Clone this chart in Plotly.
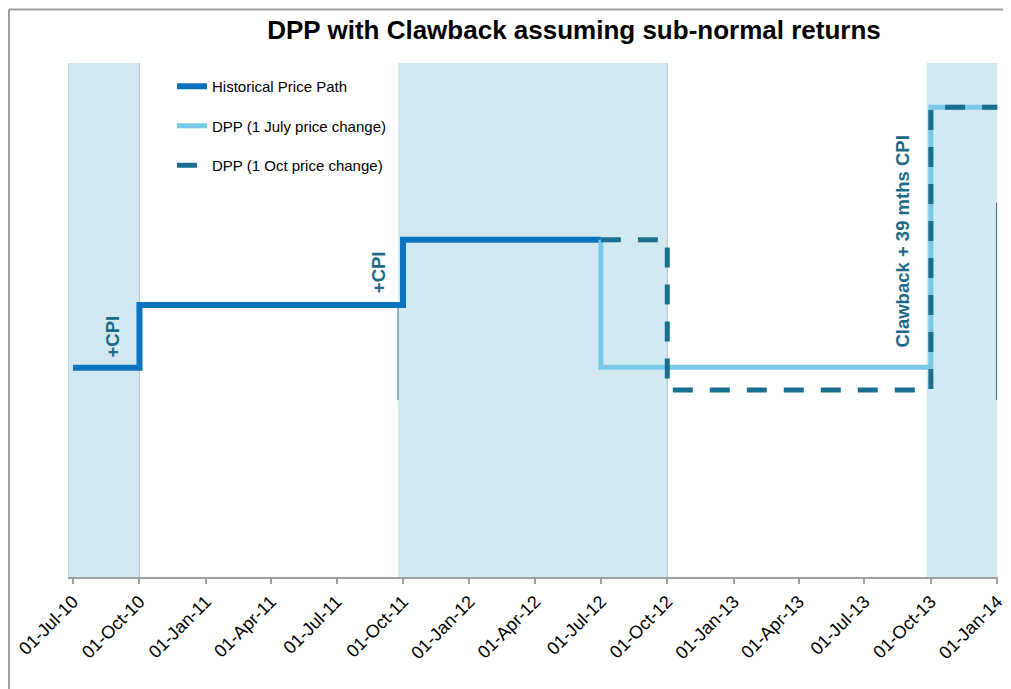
import plotly.graph_objects as go

# ---- data ----
tick_dates = ["2010-07-01", "2010-10-01", "2011-01-01", "2011-04-01", "2011-07-01",
              "2011-10-01", "2012-01-01", "2012-04-01", "2012-07-01", "2012-10-01",
              "2013-01-01", "2013-04-01", "2013-07-01", "2013-10-01", "2014-01-01"]
tick_labels = ["01-Jul-10", "01-Oct-10", "01-Jan-11", "01-Apr-11", "01-Jul-11",
               "01-Oct-11", "01-Jan-12", "01-Apr-12", "01-Jul-12", "01-Oct-12",
               "01-Jan-13", "01-Apr-13", "01-Jul-13", "01-Oct-13", "01-Jan-14"]

hist_x = ["2010-07-01", "2010-10-01", "2011-10-01", "2012-07-01"]
hist_y = [40.7, 52.9, 65.6, 65.6]

july_x = ["2012-07-01", "2013-10-01", "2014-01-01"]
july_y = [65.6, 40.8, 91.4]

oct_x = ["2012-07-01", "2012-10-01", "2013-10-01", "2014-01-01"]
oct_y = [65.6, 36.4, 91.4, 91.4]

band_start = ["2010-06-24", "2011-09-24", "2013-09-25"]
band_end = ["2010-10-01", "2012-10-01", "2014-01-01"]

FONT = "Liberation Sans, Arial, sans-serif"
TEAL = "#1d6a87"

W, H = 1003, 681          # page has an 8px body margin
L, T, B, R = 60, 55, 112, 13
PW, PH = W - L - R, H - T - B

fig = go.Figure()

fig.add_trace(go.Scatter(x=hist_x, y=hist_y, mode="lines", line_shape="hv",
                         name="Historical Price Path", legendgroup="a",
                         line=dict(color="#0a73bf", width=6)))
fig.add_trace(go.Scatter(x=july_x, y=july_y, mode="lines", line_shape="vh",
                         name="DPP (1 July price change)", legendgroup="b",
                         line=dict(color="#78c9e7", width=5)))
fig.add_trace(go.Scatter(x=oct_x, y=oct_y, mode="lines", line_shape="hv",
                         name="DPP (1 Oct price change)", legendgroup="c",
                         line=dict(color="#1a6f8e", width=5, dash="20px,17px")))

shapes = []
for s, e in zip(band_start, band_end):
    shapes.append(dict(type="rect", xref="x", yref="y", x0=s, x1=e, y0=0, y1=100,
                       fillcolor="#d2e9f1", line=dict(width=0), layer="below"))
# thin gray band edges
for xv in ["2010-06-24", "2010-10-01", "2012-10-01"]:
    shapes.append(dict(type="line", xref="x", yref="y", x0=xv, x1=xv, y0=0, y1=100,
                       line=dict(color="#b8c4c8", width=1), layer="below"))
# thin dark residual lines
shapes.append(dict(type="line", xref="x", yref="y", x0="2011-09-24", x1="2011-09-24",
                   y0=34.4, y1=52.9, line=dict(color="#3d6e8c", width=1)))
shapes.append(dict(type="line", xref="x", yref="y", x0="2013-12-31", x1="2013-12-31",
                   y0=34.4, y1=72.8, line=dict(color="#3d6e8c", width=1)))
# outer frame (top and left)
fx = -(L - 1) / PW
fy = 1 + (T - 1.5) / PH
shapes.append(dict(type="line", xref="paper", yref="paper", x0=fx, x1=1.1,
                   y0=fy, y1=fy, line=dict(color="#a0a0a0", width=2)))
shapes.append(dict(type="line", xref="paper", yref="paper", x0=fx, x1=fx,
                   y0=-0.3, y1=fy, line=dict(color="#a0a0a0", width=2)))

annotations = [
    dict(text="<b>+CPI</b>", x="2010-08-24", y=46.8, xref="x", yref="y", textangle=-90,
         showarrow=False, font=dict(family=FONT, size=18.5, color=TEAL)),
    dict(text="<b>+CPI</b>", x="2011-08-28", y=59.4, xref="x", yref="y", textangle=-90,
         showarrow=False, font=dict(family=FONT, size=18.5, color=TEAL)),
    dict(text="<b>Clawback + 39 mths CPI</b>", x="2013-08-23", y=65.2, xref="x", yref="y",
         textangle=-90, showarrow=False, font=dict(family=FONT, size=18.5, color=TEAL)),
]

fig.update_layout(
    width=W, height=H,
    margin=dict(l=L, r=R, t=T, b=B, autoexpand=False),
    paper_bgcolor="white", plot_bgcolor="white",
    title=dict(text="<b>DPP with Clawback assuming sub-normal returns</b>",
               x=566 / W, xanchor="center", y=1 - 22 / H, yanchor="middle",
               font=dict(family=FONT, size=26, color="black")),
    xaxis=dict(type="date", range=["2010-06-24", "2014-01-02"], automargin=False,
               tickvals=tick_dates, ticktext=tick_labels, tickangle=-45,
               ticks="outside", ticklen=5, tickcolor="#a0a0a0", tickwidth=1.5,
               showline=True, linecolor="#a0a0a0", linewidth=2,
               showgrid=False, zeroline=False,
               tickfont=dict(family=FONT, size=18, color="black")),
    yaxis=dict(range=[0, 100], visible=False, showgrid=False, zeroline=False,
               automargin=False),
    showlegend=True,
    legend=dict(x=(164 - L) / PW, xanchor="left", y=1 - 7 / PH, yanchor="top",
                bgcolor="rgba(0,0,0,0)", tracegroupgap=17,
                font=dict(family=FONT, size=15, color="black")),
    shapes=shapes,
    annotations=annotations,
)

fig.write_html("out.html")
